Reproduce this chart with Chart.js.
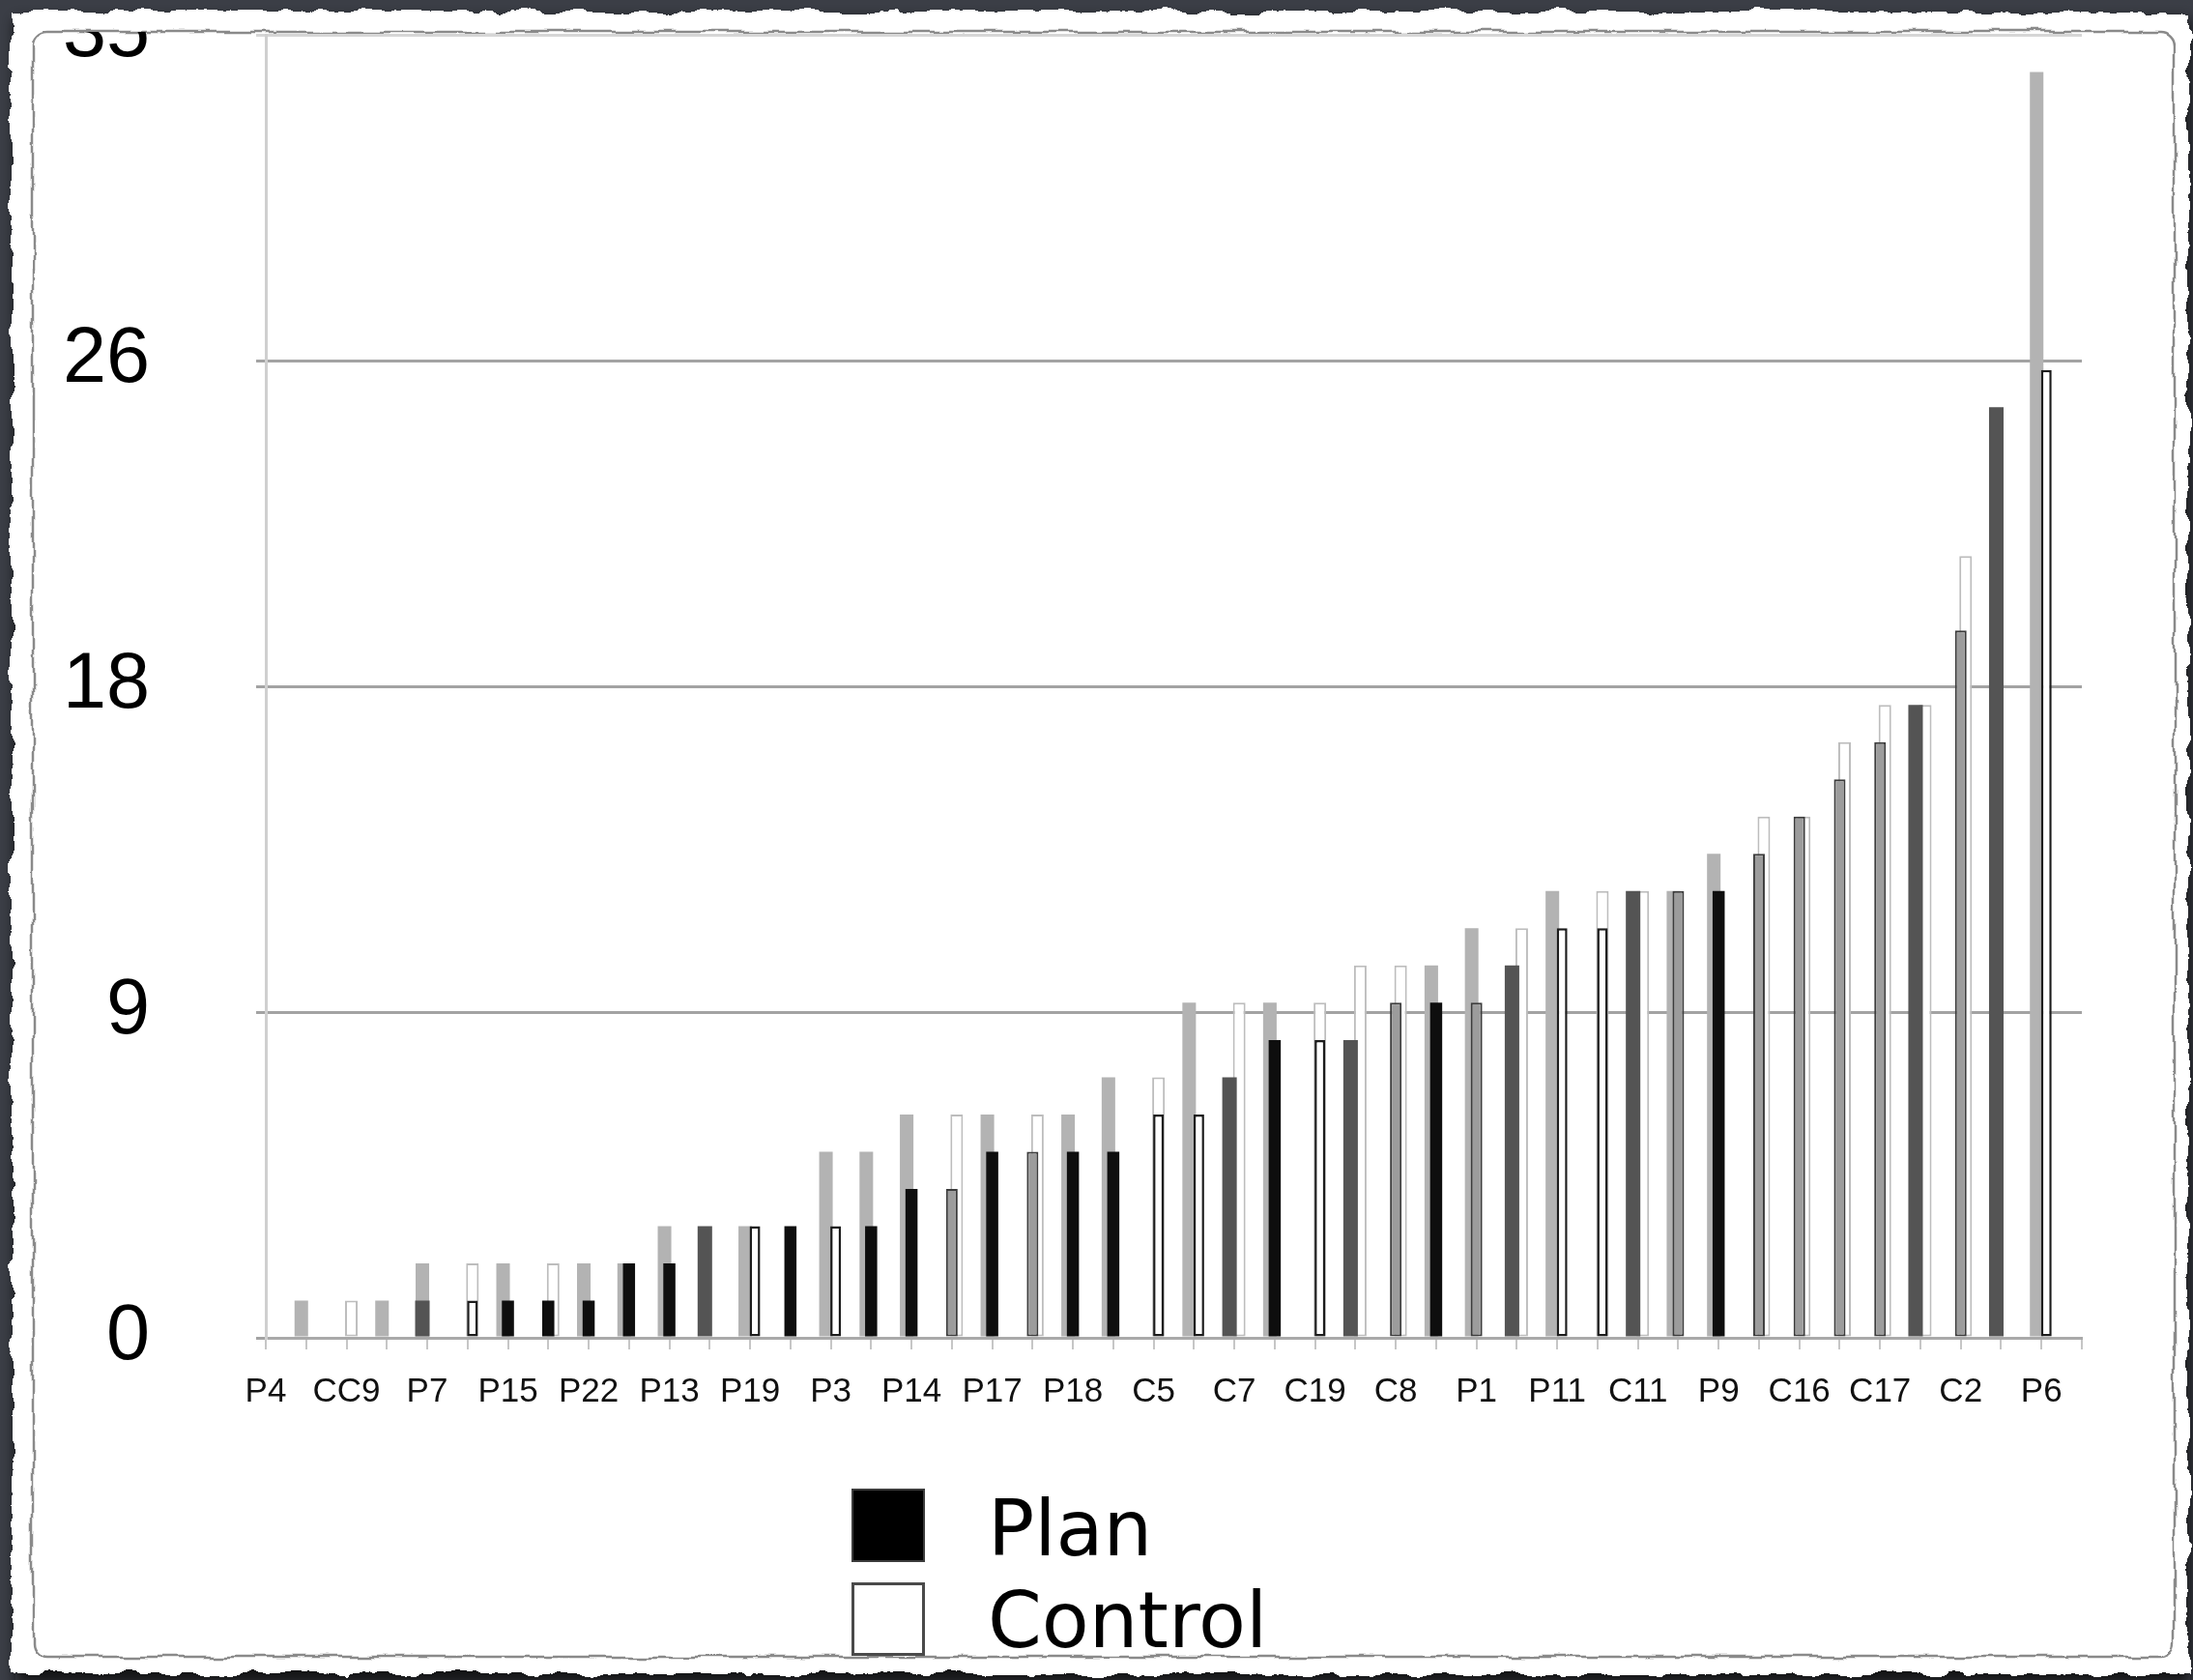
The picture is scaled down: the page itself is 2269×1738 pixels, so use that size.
<!DOCTYPE html>
<html>
<head>
<meta charset="utf-8">
<script src="https://cdn.jsdelivr.net/npm/chart.js@4.4.1/dist/chart.umd.min.js"></script>
<style>
  html, body { margin: 0; padding: 0; width: 2269px; height: 1738px; overflow: hidden; background: #3b3e46; }
  #bg { position: absolute; left: 0; top: 0; }
  #clip { position: absolute; left: 0; top: 33px; width: 2269px; height: 1450px; overflow: hidden; }
  #c { position: absolute; left: 0; top: -33px; }
  .sw { position: absolute; left: 881px; width: 76px; height: 76px; box-sizing: border-box; }
  .lt { position: absolute; left: 1022px; font-family: 'DejaVu Sans', sans-serif; font-size: 80px; line-height: 1; color: #000; white-space: nowrap; }
</style>
</head>
<body>
<svg id="bg" width="2269" height="1738">
  <defs>
    <filter id="torn" x="-3%" y="-3%" width="106%" height="106%">
      <feTurbulence type="fractalNoise" baseFrequency="0.035" numOctaves="4" seed="7" result="n"/>
      <feDisplacementMap in="SourceGraphic" in2="n" scale="14" xChannelSelector="R" yChannelSelector="G"/>
    </filter>
    <filter id="torn2" x="-3%" y="-3%" width="106%" height="106%">
      <feTurbulence type="fractalNoise" baseFrequency="0.025" numOctaves="3" seed="21" result="n"/>
      <feDisplacementMap in="SourceGraphic" in2="n" scale="10" xChannelSelector="R" yChannelSelector="G"/>
    </filter>
    <filter id="blur" x="-5%" y="-5%" width="110%" height="110%">
      <feGaussianBlur stdDeviation="7"/>
    </filter>
  </defs>
  <rect x="16" y="20" width="2250" height="1722" fill="#0c0d10" opacity="0.85" filter="url(#blur)"/>
  <rect x="12" y="12" width="2252" height="1720" fill="#ffffff" filter="url(#torn)"/>
  <rect x="34" y="33" width="2216" height="1681" rx="14" fill="none" stroke="#8a8a8a" stroke-width="2.5" filter="url(#torn2)"/>
</svg>

<div id="clip"><canvas id="c" width="2269" height="1483"></canvas></div>

<div class="sw" style="top:1540px;background:#000;border:2px solid #3c3c3c;"></div>
<div class="sw" style="top:1637px;background:#fff;border:3px solid #4a4a4a;"></div>
<div class="lt" style="top:1542px;">Plan</div>
<div class="lt" style="top:1637px;">Control</div>

<script>
const N = null;

// Participant names (one label every second slot)
const participants = ['P4','CC9','P7','P15','P22','P13','P19','P3','P14','P17','P18','C5','C7','C19','C8','P1','P11','C11','P9','C16','C17','C2','P6'];

// Y axis tick values and their printed labels
const yTickValues = [0, 8.75, 17.5, 26.25, 35];
const yTickLabels = ['0', '9', '18', '26', '35'];

// Series values per slot (46 slots)
const planLight = [
  N,1,N,1,2,N,2,N,2,2,
  3,N,3,N,5,5,6,N,6,N,
  6,7,N,9,N,9,N,N,N,10,
  11,N,12,N,N,12,13,N,N,N,
  N,N,N,N,34,N];
const controlLight = [
  N,N,1,N,N,2,N,2,N,N,
  N,N,N,N,N,N,N,6,N,6,
  N,N,7,N,9,N,9,10,10,N,
  N,11,N,12,12,N,N,14,14,16,
  17,17,21,N,N,N];
const planDark = [
  N,N,N,N,N,N,1,1,1,2,
  2,N,N,3,N,3,4,N,5,N,
  5,5,N,N,N,8,N,N,N,9,
  N,N,N,N,N,N,12,N,N,N,
  N,N,N,N,N,N];
const darkGray = [
  N,N,N,N,1,N,N,N,N,N,
  N,3,N,N,N,N,N,N,N,N,
  N,N,N,N,7,N,N,8,N,N,
  N,10,N,N,12,N,N,N,N,N,
  N,17,N,25,N,N];
const controlDark = [
  N,N,N,N,N,1,N,N,N,N,
  N,N,3,N,3,N,N,N,N,N,
  N,N,6,6,N,N,8,N,N,N,
  N,N,11,11,N,N,N,N,N,N,
  N,N,N,N,26,N];
const midGray = [
  N,N,N,N,N,N,N,N,N,N,
  N,N,N,N,N,N,N,4,N,5,
  N,N,N,N,N,N,N,N,9,N,
  9,N,N,N,N,12,N,13,14,15,
  16,N,19,N,N,N];

const labels = planLight.map((_, i) => (i % 2 === 0 && participants[i / 2] !== undefined) ? participants[i / 2] : '');

const CAT = 0.36;
function ds(label, data, stack, bg, border, bw, pct) {
  return {
    label, data, stack,
    backgroundColor: bg, borderColor: border, borderWidth: bw,
    borderSkipped: false, barPercentage: pct, categoryPercentage: CAT
  };
}

const chart = new Chart(document.getElementById('c'), {
  type: 'bar',
  data: {
    labels,
    datasets: [
      ds('darkGray', darkGray, 'L', '#545454', '#3a3a3a', 0, 3.0),
      ds('Plan', planDark, 'M', '#0e0e0e', '#0e0e0e', 0, 2.5),
      ds('Control', controlDark, 'R', '#ffffff', '#1c1c1c', 2.5, 2.2),
      ds('midGray', midGray, 'M', '#9c9c9c', '#3c3c3c', 2, 2.4),
      ds('planLight', planLight, 'L', '#b3b3b3', '#b3b3b3', 0, 2.8),
      ds('controlLight', controlLight, 'R', '#ffffff', '#bdbdbd', 2, 2.6)
    ]
  },
  options: {
    responsive: false,
    animation: false,
    devicePixelRatio: 1,
    layout: { padding: { left: 59, right: 115, top: 36, bottom: 19 } },
    plugins: { legend: { display: false }, tooltip: { enabled: false } },
    scales: {
      x: {
        offset: false,
        grid: { offset: false, drawOnChartArea: false, drawTicks: true, tickLength: 12, color: '#c6c6c6', lineWidth: 2 },
        border: { color: '#a9a9a9', width: 3 },
        ticks: {
          autoSkip: false, maxRotation: 0, minRotation: 0, padding: 23,
          color: '#111', font: { family: "'Liberation Sans', Arial, sans-serif", size: 35 }
        },
        afterFit: s => { s.height = 80; s.paddingLeft = 0; s.paddingRight = 0; }
      },
      y: {
        stacked: false,
        min: 0, max: 35,
        afterBuildTicks: s => { s.ticks = yTickValues.map(v => ({ value: v })); },
        grid: {
          color: c => (c.tick && c.tick.value === 35) ? '#d6d6d6' : '#a3a3a3',
          lineWidth: 3, tickLength: 10
        },
        border: { color: '#cfcfcf', width: 3 },
        ticks: {
          padding: 110, color: '#000',
          font: { family: "'Liberation Sans', Arial, sans-serif", size: 81 },
          callback: (v, i) => yTickLabels[i]
        },
        afterFit: s => { s.width = 216; s.paddingTop = 0; s.paddingBottom = 0; }
      }
    }
  }
});
</script>
</body>
</html>
